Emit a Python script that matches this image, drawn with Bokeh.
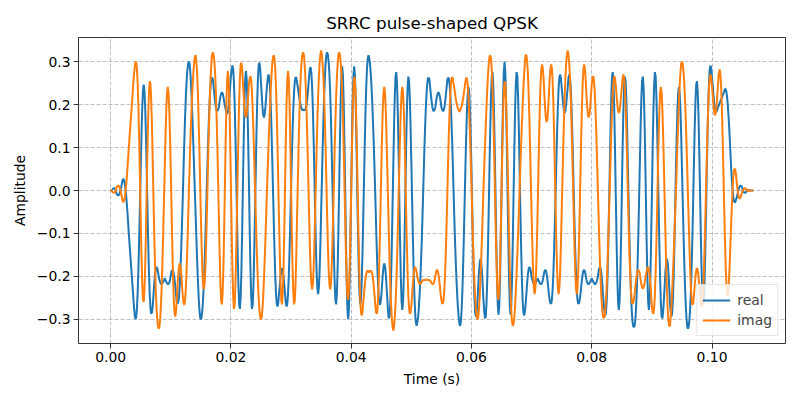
import numpy as np
from bokeh.plotting import figure
from bokeh.models import Range1d, FixedTicker
from bokeh.embed import file_html
from bokeh.resources import INLINE

# QPSK symbol signs (one per symbol period)
real_symbols = [-1, -1, 1, -1, -1, -1, -1, -1, -1, 1,
                1, -1, -1, 1, 1, 1, 1, 1, -1, 1,
                -1, 1, 1, 1, -1, -1, -1, 1, 1, 1,
                1, -1, 1, 1, -1, 1, -1, 1, -1, 1,
                1, -1, -1, -1, 1, -1, 1, -1, -1, 1,
                1, 1, 1, 1, -1, -1, 1, -1, -1, -1,
                1, -1, 1, -1, 1, -1, -1, -1, -1, -1,
                -1, 1, 1, 1, -1, -1, -1, -1, -1, -1,
                1, -1, 1, -1, -1, 1, -1, 1, -1, -1,
                -1, 1, -1, -1, 1, -1, 1, 1, 1, 1]
imag_symbols = [1, 1, -1, 1, -1, -1, 1, -1, -1, -1,
                1, 1, -1, 1, 1, -1, 1, -1, 1, 1,
                1, -1, -1, 1, 1, -1, 1, -1, 1, 1,
                -1, 1, 1, -1, 1, 1, -1, 1, -1, -1,
                -1, -1, 1, -1, -1, 1, -1, -1, -1, -1,
                -1, -1, -1, 1, 1, 1, 1, -1, -1, 1,
                1, -1, 1, -1, -1, 1, 1, -1, 1, 1,
                1, -1, 1, 1, -1, 1, 1, 1, -1, -1,
                1, 1, 1, -1, -1, -1, -1, -1, 1, -1,
                -1, 1, 1, -1, -1, -1, 1, 1, 1, -1]

symbol_rate = 1000
samples_per_symbol = 8
rolloff = 0.35
span_symbols = 7
pulse_peak = 0.23

x_ticks = [0.0, 0.02, 0.04, 0.06, 0.08, 0.10]
x_tick_labels = ["0.00", "0.02", "0.04", "0.06", "0.08", "0.10"]
y_ticks = [-0.3, -0.2, -0.1, 0.0, 0.1, 0.2, 0.3]
y_tick_labels = ["\u22120.3", "\u22120.2", "\u22120.1", "0.0", "0.1", "0.2", "0.3"]


def srrc(beta, sps, span):
    t = np.arange(-span * sps / 2, span * sps / 2 + 1) / sps
    h = np.zeros_like(t)
    for i, ti in enumerate(t):
        if abs(ti) < 1e-12:
            h[i] = 1 - beta + 4 * beta / np.pi
        elif abs(abs(4 * beta * ti) - 1) < 1e-9:
            h[i] = beta / np.sqrt(2) * ((1 + 2 / np.pi) * np.sin(np.pi / (4 * beta))
                                        + (1 - 2 / np.pi) * np.cos(np.pi / (4 * beta)))
        else:
            h[i] = (np.sin(np.pi * ti * (1 - beta)) + 4 * beta * ti * np.cos(np.pi * ti * (1 + beta))) / \
                   (np.pi * ti * (1 - (4 * beta * ti) ** 2))
    return h / h.max()


h = srrc(rolloff, samples_per_symbol, span_symbols) * pulse_peak
n_sym = len(real_symbols)
up_r = np.zeros(n_sym * samples_per_symbol)
up_i = np.zeros(n_sym * samples_per_symbol)
up_r[::samples_per_symbol] = real_symbols
up_i[::samples_per_symbol] = imag_symbols
sig_r = np.convolve(up_r, h)
sig_i = np.convolve(up_i, h)
fs = symbol_rate * samples_per_symbol
t = np.arange(len(sig_r)) / fs

xpad = 0.05 * (t[-1] - t[0])
p = figure(width=800, height=400, output_backend="svg", toolbar_location=None,
           x_range=Range1d(t[0] - xpad, t[-1] + xpad), y_range=Range1d(-0.357, 0.357),
           min_border_left=78, min_border_right=15, min_border_top=37, min_border_bottom=57,
           title="SRRC pulse-shaped QPSK")

p.line(t, sig_r, line_color="#1f77b4", line_width=2, legend_label="real")
p.line(t, sig_i, line_color="#ff7f0e", line_width=2, legend_label="imag")

font = "DejaVu Sans"
p.title.text_font = font
p.title.text_font_size = "16.7px"
p.title.text_font_style = "normal"
p.title.align = "center"
p.title.text_color = "black"

p.xaxis.ticker = FixedTicker(ticks=x_ticks)
p.yaxis.ticker = FixedTicker(ticks=y_ticks)
p.xaxis.major_label_overrides = dict(zip(x_ticks, x_tick_labels))
p.yaxis.major_label_overrides = dict(zip(y_ticks, y_tick_labels))
p.xaxis.axis_label = "Time (s)"
p.yaxis.axis_label = "Amplitude"
for ax in (p.xaxis, p.yaxis):
    ax.axis_label_text_font = font
    ax.axis_label_text_font_size = "13.9px"
    ax.axis_label_text_font_style = "normal"
    ax.axis_label_text_color = "black"
    ax.major_label_text_font = font
    ax.major_label_text_font_size = "13.9px"
    ax.major_label_text_color = "black"
    ax.axis_line_color = None
    ax.major_tick_line_color = "black"
    ax.major_tick_line_width = 0.8
    ax.major_tick_out = 5
    ax.major_tick_in = 0
    ax.minor_tick_line_color = None
    ax.major_label_standoff = 3
    ax.axis_label_standoff = 6

p.outline_line_color = "black"
p.outline_line_width = 0.8
p.grid.grid_line_color = "#b0b0b0"
p.grid.grid_line_dash = "4 2"
p.grid.grid_line_width = 0.8

p.legend.location = "bottom_right"
p.legend.label_text_font = font
p.legend.label_text_font_size = "13.9px"
p.legend.glyph_width = 28
p.legend.label_standoff = 7
p.legend.padding = 5
p.legend.spacing = 0
p.legend.margin = 7
p.legend.border_line_color = "#cccccc"
p.legend.background_fill_alpha = 0.8

open("out.html", "w").write(file_html(p, INLINE))
